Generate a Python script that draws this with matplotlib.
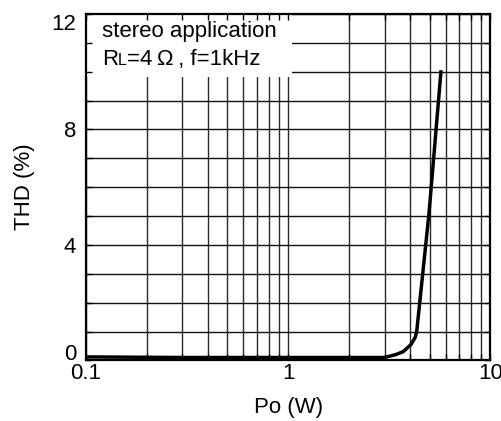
import matplotlib
matplotlib.use("Agg")
import matplotlib.pyplot as plt
import matplotlib.patches as mpatches
from matplotlib.ticker import FixedLocator, NullFormatter

plt.rcParams['font.family'] = ['Liberation Sans', 'DejaVu Sans']

# Data
po_w = [0.1, 0.3, 1.0, 2.0, 3.0, 3.4, 3.7, 4.05, 4.25, 4.32, 4.97, 5.7]
thd_pct = [0.12, 0.1, 0.1, 0.1, 0.1, 0.2, 0.3, 0.55, 0.8, 1.0, 5.1, 10.05]

x_major = [0.1, 1, 10]
x_major_labels = ["0.1", "1", "10"]
x_minor = [0.2, 0.3, 0.4, 0.5, 0.6, 0.7, 0.8, 0.9, 2, 3, 4, 5, 6, 7, 8, 9]
y_major = [0, 4, 8, 12]
y_major_labels = ["0", "4", "8", "12"]
y_grid = [0, 1, 2, 3, 4, 5, 6, 7, 8, 9, 10, 11, 12]

FS = 16

fig = plt.figure(figsize=(5.02, 4.21), dpi=100)
ax = fig.add_axes([0.171, 0.144, 0.806, 0.823])

ax.set_xscale('log')
ax.set_xlim(0.1, 10)
ax.set_ylim(0, 12)

# grid (manual so ticks can sit above the label box)
ax.vlines(x_minor + x_major, 0, 12, colors='#2a2a2a', linewidth=1.0, zorder=0.5)
ax.hlines(y_grid, 0.1, 10, colors='#111111', linewidth=1.0, zorder=0.5)

# white label box
box = mpatches.Rectangle((0, 0.818), 0.509, 0.182, transform=ax.transAxes,
                         facecolor='white', edgecolor='none', zorder=1)
ax.add_patch(box)

ax.plot(po_w, thd_pct, color='black', linewidth=2.5, zorder=3,
        solid_capstyle='butt', clip_on=False)

ax.xaxis.set_major_locator(FixedLocator(x_major))
ax.set_xticklabels(x_major_labels)
ax.xaxis.set_minor_locator(FixedLocator(x_minor))
ax.xaxis.set_minor_formatter(NullFormatter())
ax.set_yticks(y_major)
ylabels = ax.set_yticklabels(y_major_labels)
ax.yaxis.set_minor_locator(FixedLocator(y_grid))
ylabels[0].set_va('baseline')
ylabels[-1].set_va('top')

ax.tick_params(which='both', direction='in', top=True, right=True,
               length=4, width=1.0, color='black', labelsize=FS)
ax.tick_params(axis='x', which='major', pad=2)
ax.tick_params(axis='y', which='major', pad=7)

for s in ax.spines.values():
    s.set_linewidth(1.6)
    s.set_zorder(4)

ax.set_xlabel("Po (W)", fontsize=FS, labelpad=9)
ax.set_ylabel("THD (%)", fontsize=FS, labelpad=12)

ax.text(0.04, 0.934, "stereo application", transform=ax.transAxes,
        fontsize=FS, va='baseline', ha='left', zorder=5)
t1 = ax.text(0.04, 0.853, "R", transform=ax.transAxes,
             fontsize=FS, va='baseline', ha='left', zorder=5)
t2 = ax.annotate("L", xy=(1, 0), xycoords=t1, xytext=(0, 3.4),
                 textcoords='offset points', fontsize=11.5,
                 va='baseline', ha='left', zorder=5)
t3 = ax.annotate("=4\u2009\u03a9\u2009, f=1kHz", xy=(1, 0), xycoords=(t2, t1),
                 fontsize=FS, va='bottom', ha='left', zorder=5)

fig.savefig("out.png", dpi=100)
